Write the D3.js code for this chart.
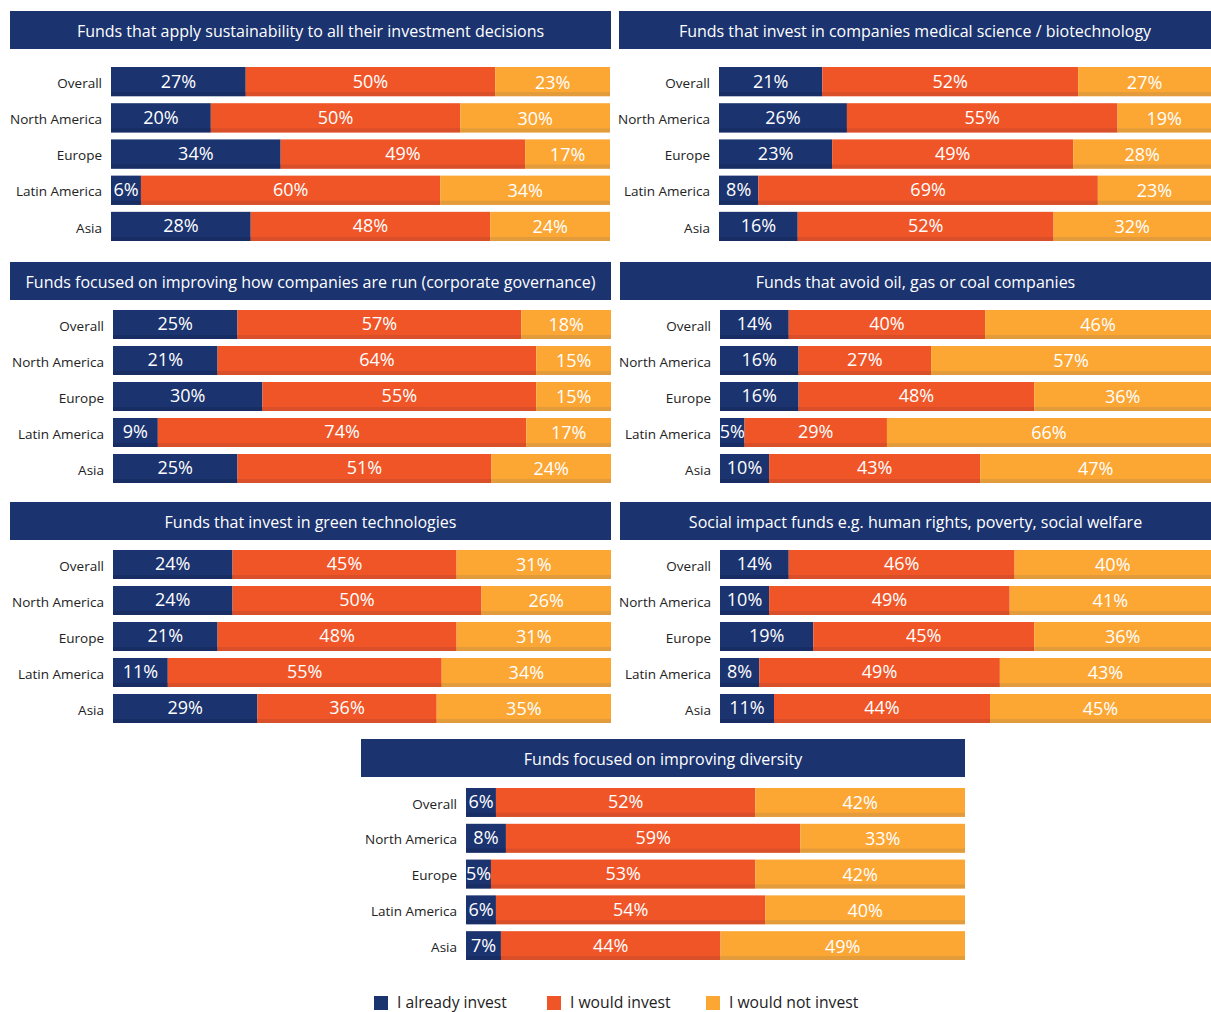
<!DOCTYPE html>
<html>
<head>
<meta charset="utf-8">
<script src="https://cdn.jsdelivr.net/npm/d3@7"></script>
<style>
  body { margin: 0; background: #fff; }
  svg { display: block; font-family: "Open Sans", "Noto Sans", sans-serif; }
</style>
</head>
<body>
<div id="chart"></div>
<script>
// data
var regions = ["Overall", "North America", "Europe", "Latin America", "Asia"];
var seriesNames = ["I already invest", "I would invest", "I would not invest"];
var titles = [
  "Funds that apply sustainability to all their investment decisions",
  "Funds that invest in companies medical science / biotechnology",
  "Funds focused on improving how companies are run (corporate governance)",
  "Funds that avoid oil, gas or coal companies",
  "Funds that invest in green technologies",
  "Social impact funds e.g. human rights, poverty, social welfare",
  "Funds focused on improving diversity"
];
var sustainability = [[27, 50, 23], [20, 50, 30], [34, 49, 17], [6, 60, 34], [28, 48, 24]];
var medical = [[21, 52, 27], [26, 55, 19], [23, 49, 28], [8, 69, 23], [16, 52, 32]];
var governance = [[25, 57, 18], [21, 64, 15], [30, 55, 15], [9, 74, 17], [25, 51, 24]];
var fossil = [[14, 40, 46], [16, 27, 57], [16, 48, 36], [5, 29, 66], [10, 43, 47]];
var green = [[24, 45, 31], [24, 50, 26], [21, 48, 31], [11, 55, 34], [29, 36, 35]];
var social = [[14, 46, 40], [10, 49, 41], [19, 45, 36], [8, 49, 43], [11, 44, 45]];
var diversity = [[6, 52, 42], [8, 59, 33], [5, 53, 42], [6, 54, 40], [7, 44, 49]];
var panelData = [sustainability, medical, governance, fossil, green, social, diversity];

// layout
var colors = ["#1b336f", "#f05528", "#fca633"];
var shades = ["#172d63", "#d84f29", "#e29c3b"];
var layout = [
  { tx0: 10, tx1: 611, ty: 11, bx0: 111, bx1: 610, by0: 67, by1: 241 },
  { tx0: 619, tx1: 1211, ty: 11, bx0: 719, bx1: 1211, by0: 67, by1: 241 },
  { tx0: 10, tx1: 611, ty: 262, bx0: 113, bx1: 611, by0: 310, by1: 483 },
  { tx0: 620, tx1: 1211, ty: 262, bx0: 720, bx1: 1211, by0: 310, by1: 483 },
  { tx0: 10, tx1: 611, ty: 502, bx0: 113, bx1: 611, by0: 550, by1: 723 },
  { tx0: 620, tx1: 1211, ty: 502, bx0: 720, bx1: 1211, by0: 550, by1: 723 },
  { tx0: 361, tx1: 965, ty: 739, bx0: 466, bx1: 965, by0: 788, by1: 960 }
];
var titleH = 38;

var svg = d3.select("#chart").append("svg")
  .attr("width", 1211)
  .attr("height", 1012);

panelData.forEach(function (rows, p) {
  var L = layout[p];
  var g = svg.append("g").attr("class", "panel");

  g.append("rect")
    .attr("x", L.tx0).attr("y", L.ty)
    .attr("width", L.tx1 - L.tx0).attr("height", titleH)
    .attr("fill", colors[0]);
  g.append("text")
    .attr("x", (L.tx0 + L.tx1) / 2).attr("y", L.ty + titleH / 2 + 1)
    .attr("dy", "0.36em")
    .attr("text-anchor", "middle")
    .attr("fill", "#fff")
    .style("font-size", "16px")
    .text(titles[p]);

  var y = d3.scaleBand()
    .domain(regions)
    .range([L.by0, L.by1])
    .paddingInner(7 / 36)
    .paddingOuter(0);

  regions.forEach(function (r, i) {
    var vals = rows[i];
    var x = d3.scaleLinear()
      .domain([0, d3.sum(vals)])
      .range([L.bx0, L.bx1]);
    var stack = d3.cumsum(vals);
    var row = g.append("g");
    var bh = y.bandwidth();

    g.append("text")
      .attr("x", L.bx0 - 9)
      .attr("y", y(r) + bh / 2 + 1.5)
      .attr("dy", "0.35em")
      .attr("text-anchor", "end")
      .attr("fill", "#222")
      .style("font-size", "13.5px")
      .text(r);

    vals.forEach(function (v, k) {
      var x0 = x(stack[k] - v), x1 = x(stack[k]);
      row.append("rect")
        .attr("x", x0).attr("y", y(r))
        .attr("width", x1 - x0).attr("height", bh)
        .attr("fill", colors[k]);
      row.append("rect")
        .attr("x", x0).attr("y", y(r) + bh - 4)
        .attr("width", x1 - x0).attr("height", 4)
        .attr("fill", shades[k]);
      row.append("text")
        .attr("x", (x0 + x1) / 2)
        .attr("y", y(r) + bh / 2 + (k == 2 ? 0.5 : -0.5))
        .attr("dy", "0.36em")
        .attr("text-anchor", "middle")
        .attr("fill", "#fff")
        .style("font-size", "18px")
        .text(v + "%");
    });
  });
});

// legend
var legendX = [374, 547, 706];
var legend = svg.append("g");
seriesNames.forEach(function (s, k) {
  legend.append("rect")
    .attr("x", legendX[k]).attr("y", 996)
    .attr("width", 14).attr("height", 14)
    .attr("fill", colors[k]);
  legend.append("text")
    .attr("x", legendX[k] + 23).attr("y", 1002)
    .attr("dy", "0.36em")
    .attr("fill", "#222")
    .style("font-size", "15.7px")
    .text(s);
});
</script>
</body>
</html>
